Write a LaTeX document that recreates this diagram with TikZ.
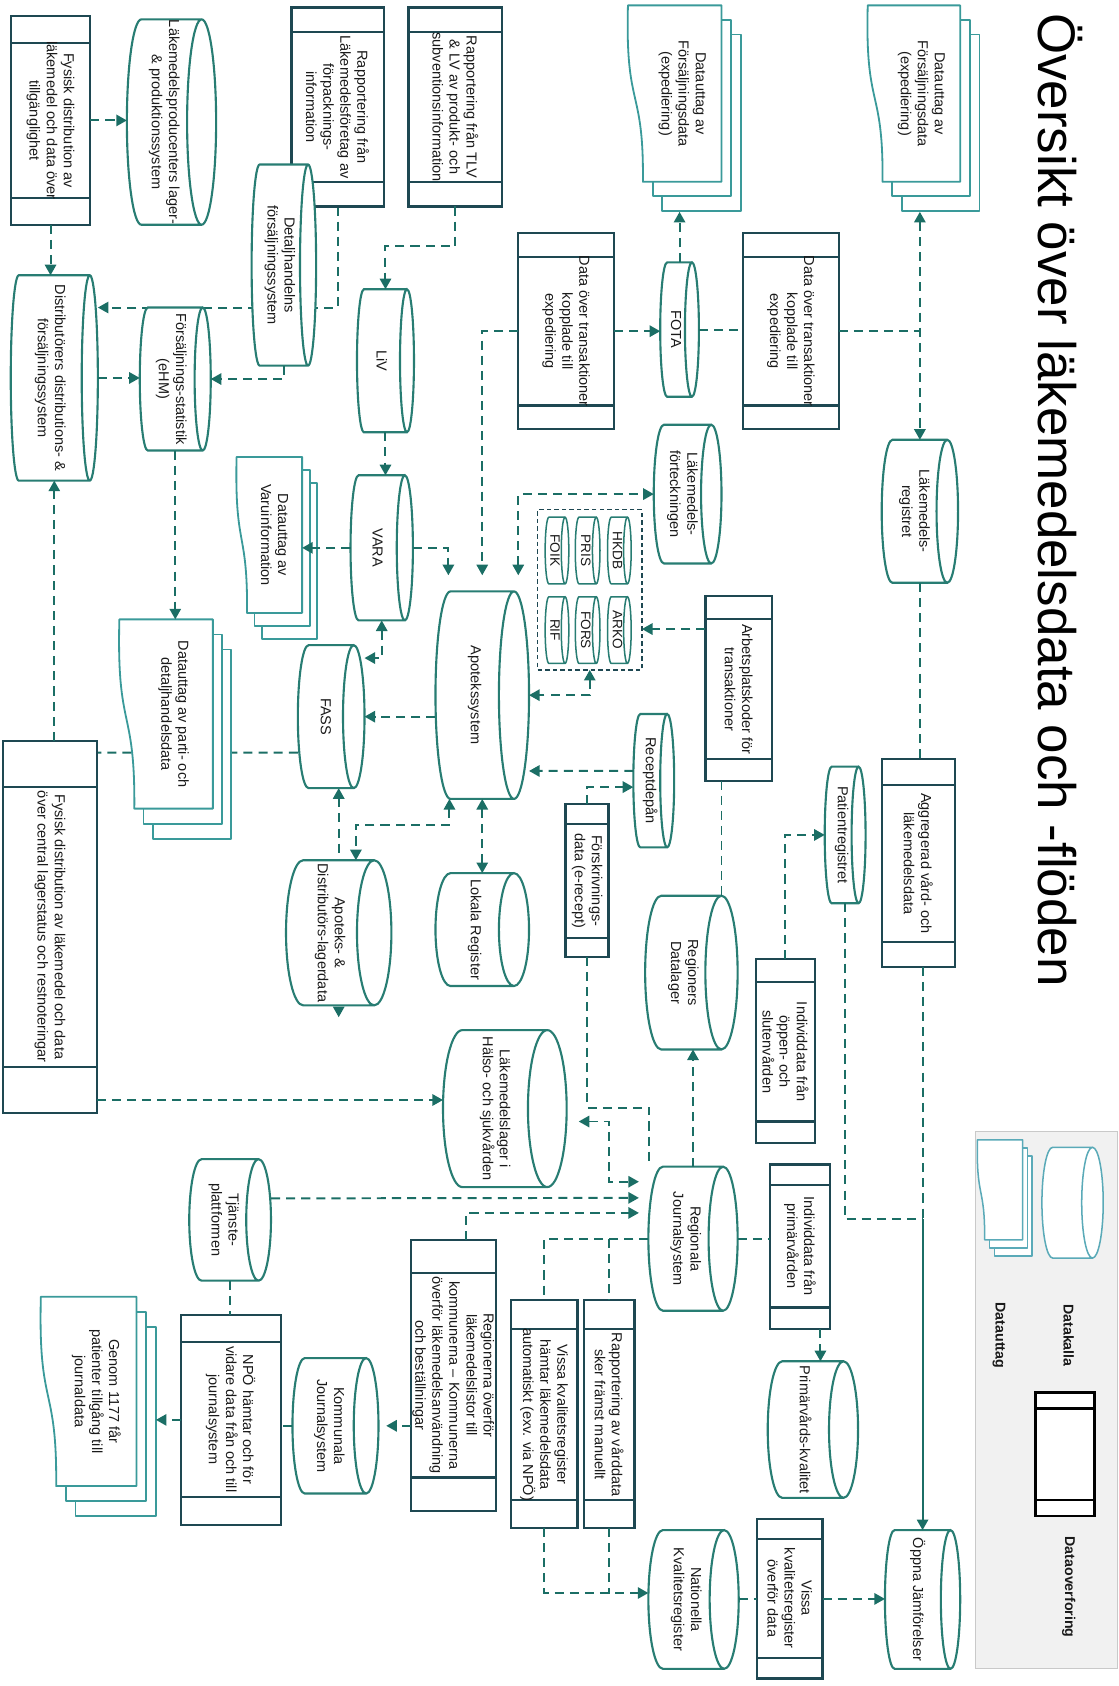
\documentclass[tikz,border=0pt]{standalone}
\usepackage{fontspec}
\setmainfont{Liberation Sans}
\usetikzlibrary{arrows.meta,calc}
\pgfdeclarelayer{bg}
\pgfsetlayers{bg,main}

\definecolor{cylc}{HTML}{287D73}
\definecolor{docc}{HTML}{3A9A9A}
\definecolor{recc}{HTML}{1E4852}
\definecolor{arrc}{HTML}{1B6E65}
\definecolor{txtc}{HTML}{1A1A1A}
\definecolor{legfill}{HTML}{F1F1F1}
\definecolor{legline}{HTML}{C9C9C9}
\definecolor{legc}{HTML}{5AAAB8}

\tikzset{
  shapebox/.style={rectangle, inner sep=0pt, outer sep=0pt},
  txt/.style={rotate=-90, align=center, inner sep=0pt, text=txtc, font=\fontsize{9.6}{11.3}\selectfont},
  cylsty/.style={draw=cylc, line width=1.4pt, fill=white},
  docsty/.style={draw=docc, line width=1.2pt, fill=white, line join=round},
  recsty/.style={draw=recc, line width=1.5pt, fill=white},
  flow/.style={draw=arrc, line width=1.3pt, dash pattern=on 6pt off 4pt},
  solidflow/.style={draw=arrc, line width=1.3pt},
  >={Triangle[length=7pt,width=7.5pt]},
}

% cylinder: [style]{name}{x1}{y1}{x2}{y2}{face width}{text}
\newcommand\cylnode[8][]{%
  \draw[cylsty,#1] ({#5-#7/2},#4) -- ({#3+#7/2},#4)
    arc[start angle=270,end angle=90,x radius={#7/2},y radius={(#6-#4)/2}]
    -- ({#5-#7/2},#6)
    arc[start angle=90,end angle=-90,x radius={#7/2},y radius={(#6-#4)/2}]
    arc[start angle=-90,end angle=-270,x radius={#7/2},y radius={(#6-#4)/2}];
  \node[shapebox,minimum width={(#5-#3)*0.025cm},minimum height={(#6-#4)*0.025cm}] (#2) at ({(#3+#5)/2},{(#4+#6)/2}) {};
  \node[txt] (#2-t) at ({(#3+#5-#7/2)/2},{(#4+#6)/2}) {#8};
}
% multi document: [style]{name}{x1}{y1}{x2}{y2}{dx}{dy}{text}
\newcommand\docnode[9][]{%
  \draw[docsty,#1] ({#3+0.16*(#5-#3)+2*#7},{#4+2*#8}) rectangle ({#5+2*#7},{#6+2*#8});
  \draw[docsty,#1] ({#3+0.16*(#5-#3)+#7},{#4+#8}) rectangle ({#5+#7},{#6+#8});
  \draw[docsty,#1] (#5,#4) -- (#3,#4)
    .. controls ({#3-0.03*(#5-#3)},{#4+0.6*(#6-#4)}) and ({#3+0.17*(#5-#3)},{#4+0.45*(#6-#4)}) ..
    ({#3+0.16*(#5-#3)},#6) -- (#5,#6) -- cycle;
  \node[shapebox,minimum width={(#5-#3)*0.025cm},minimum height={(#6-#4)*0.025cm}] (#2) at ({(#3+#5)/2},{(#4+#6)/2}) {};
  \node[txt] (#2-t) at ({#3+0.58*(#5-#3)},{(#4+#6)/2}) {#9};
}
% process box: [style]{name}{x1}{y1}{x2}{y2}{div1}{div2}{text}
\newcommand\recnode[9][]{%
  \node[shapebox,recsty,#1,minimum width={(#5-#3)*0.025cm},minimum height={(#6-#4)*0.025cm}] (#2) at ({(#3+#5)/2},{(#4+#6)/2}) {};
  \draw[recsty,fill=none,#1] (#3,#7) -- (#5,#7) (#3,#8) -- (#5,#8);
  \node[txt] (#2-t) at ({(#3+#5)/2},{(#7+#8)/2}) {#9};
}

\begin{document}
\begin{tikzpicture}[x=0.025cm,y=-0.025cm]
\useasboundingbox (0,0) rectangle (1040,1568);

% title
\node[rotate=-90, anchor=base west, inner sep=0pt, text=black, font=\fontsize{35}{40}\selectfont] (title) at (966,12) {Översikt över läkemedelsdata och -flöden};

% ---------- shapes ----------
\recnode{r1}{10}{15}{84}{209}{40}{184}{Fysisk distribution av\\läkemedel och data över\\tillgänglighet}
\cylnode{c2}{118}{18}{201}{209}{27}{Läkemedelsproducenters lager-\\\& produktionssystem}
\recnode{r3}{271}{7}{357}{192}{30}{169}{Rapportering från\\Läkemedelsföretag av\\förpacknings-\\information}
\recnode{r4}{380}{7}{467}{192}{30}{169}{Rapportering från TLV\\\& LV av produkt- och\\subventionsinformation}
\cylnode{c5}{234}{153}{294}{340}{15}{Detaljhandelns\\försäljningssystem}
\cylnode{c6}{10}{256}{91}{447}{15}{Distributörers distributions- \&\\försäljningssystem}
\cylnode{c7}{130}{286}{196}{419}{15}{Försäljnings-statistik\\(eHM)}
\cylnode{liv}{332}{269}{385}{402}{13}{LiV}
\cylnode{vara}{326}{442}{384}{577}{15}{VARA}
\docnode{d10}{220}{425}{281}{570}{7}{12}{Datauttag av\\Varuinformation}
\docnode{dexp1}{584}{5}{671}{169}{9}{13.5}{Datauttag av\\Försäljningsdata\\(expediering)}
\recnode{rdot1}{482}{217}{571}{399}{239}{377}{Data över transaktioner\\kopplade till\\expediering}
\cylnode{fota}{614}{244}{650}{369}{13}{FOTA}
\recnode{rdot2}{691}{217}{780}{399}{239}{377}{Data över transaktioner\\kopplade till\\expediering}
\docnode{dexp2}{807}{5}{893}{169}{9}{13.5}{Datauttag av\\Försäljningsdata\\(expediering)}
\cylnode{lreg}{820}{409}{891}{542}{20}{Läkemedels-\\registret}
\cylnode{lfort}{608}{395}{671}{524}{19}{Läkemedels-\\förteckningen}
\docnode{dparti}{111}{576}{198}{752}{8.5}{14}{Datauttag av parti- och\\detaljhandelsdata}
\cylnode{fass}{277}{600}{339}{733}{20}{FASS}
\cylnode{apo}{405}{550}{492}{743}{28}{Apotekssystem}
\cylnode{cad}{266}{800}{364}{935}{32}{Apoteks- \&\\Distributörs-lagerdata}
\cylnode{clr}{405}{812}{492}{917}{28}{Lokala Register}
\recnode{rbig}{3}{689}{90}{1035}{732}{992}{Fysisk distribution av läkemedel och data\\över central lagerstatus och restnoteringar}

\node[shapebox,draw=recc,line width=1pt,dash pattern=on 3pt off 2pt,minimum width={97*0.025cm},minimum height={149*0.025cm}] (grp) at (548.5,548.5) {};
\cylnode[line width=1pt]{hkdb}{565}{481}{587}{543}{7}{\fontsize{9}{10}\selectfont HKDB}
\cylnode[line width=1pt]{pris}{535}{481}{558}{543}{7}{\fontsize{9}{10}\selectfont PRIS}
\cylnode[line width=1pt]{foik}{507}{481}{529}{543}{7}{\fontsize{9}{10}\selectfont FOIK}
\cylnode[line width=1pt]{arko}{565}{555}{587}{617}{7}{\fontsize{9}{10}\selectfont ARKO}
\cylnode[line width=1pt]{fors}{535}{555}{558}{617}{7}{\fontsize{9}{10}\selectfont FORS}
\cylnode[line width=1pt]{rif}{507}{555}{529}{617}{7}{\fontsize{9}{10}\selectfont RIF}

\recnode{rarb}{656}{554}{718}{726}{576}{706}{Arbetsplatskoder för\\transaktioner}
\cylnode{crec}{589}{664}{627}{788}{13}{Receptdepån}
\recnode{rfor}{526}{748}{566}{890}{766}{872}{Förskrivnings-\\data (e-recept)}
\cylnode{creg}{600}{833}{686}{976}{30}{Regioners\\Datalager}
\cylnode{cpat}{767}{713}{805}{840}{13}{Patientregistret}
\recnode{ragg}{820}{706}{888}{899}{730}{876}{Aggregerad vård- och\\läkemedelsdata}
\recnode{rind1}{703}{892}{758}{1063}{913}{1043}{Individdata från\\öppen- och\\slutenvården}
\cylnode{chs}{412}{958}{527}{1104}{36}{Läkemedelslager i\\Hälso- och sjukvården}
\cylnode{cregj}{603}{1085}{686}{1219}{27}{Regionala\\Journalsystem}
\recnode{rind2}{716}{1083}{772}{1236}{1102}{1216}{Individdata från\\primärvården}
\cylnode{cprim}{714}{1266}{798}{1393}{27}{Primärvårds-kvalitet}
\recnode{rrap}{543}{1209}{590}{1421}{1236}{1395}{Rapportering av vårddata\\sker främst manuellt}
\recnode{rviss}{475}{1209}{537}{1421}{1236}{1395}{Vissa kvalitetsregister\\hämtar läkemedelsdata\\automatiskt (exv. via NPÖ)}
\recnode{rregn}{382}{1153}{461}{1405}{1184}{1374}{Regionerna överför\\läkemedelslistor till\\kommunerna – Kommunerna\\överför läkemedelsanvändning\\och beställningar}
\cylnode{ckom}{272}{1263}{352}{1389}{23}{Kommunala\\Journalsystem}
\recnode{rnpo}{168}{1223}{261}{1418}{1248}{1392}{NPÖ hämtar och för\\vidare data från och till\\journalsystem}
\docnode{d1177}{38}{1206}{127}{1382}{9}{14}{Genom 1177 får\\patienter tillgång till\\journaldata}
\cylnode{ctj}{176}{1078}{252}{1191}{23}{Tjänste-\\plattformen}
\cylnode{cnat}{603}{1423}{687}{1552}{27}{Nationella\\Kvalitetsregister}
\recnode{rvissov}{704}{1413}{765}{1561}{1431}{1542}{Vissa\\kvalitetsregister\\överför data}
\cylnode{coj}{823}{1423}{893}{1552}{18}{Öppna Jämförelser}

% legend
\node[shapebox,draw=legline,fill=legfill,line width=0.8pt,minimum width={132*0.025cm},minimum height={500*0.025cm}] (leg) at (973,1302) {};
\cylnode[draw=legc,line width=1pt]{legcyl}{969}{1067}{1026}{1170}{20}{}
\docnode[draw=legc,line width=1pt]{legdoc}{909}{1060}{951}{1153}{4.5}{7.5}{}
\recnode[draw=black,line width=1.5pt]{legrec}{963}{1295}{1018}{1410}{1310}{1395}{}
\node[txt,font=\bfseries\fontsize{9.4}{11}\selectfont] (legt1) at (994,1242) {Datakalla};
\node[txt,font=\bfseries\fontsize{9.4}{11}\selectfont] (legt2) at (929,1242) {Datauttag};
\node[txt,font=\bfseries\fontsize{9.4}{11}\selectfont] (legt3) at (994,1476) {Dataoverforing};

% ---------- connectors behind shapes ----------
\begin{pgfonlayer}{bg}
\draw[flow,->] (r3.south) |- (c6.east |- c7.north);
\draw[flow] ($(fass.south west)+(0,-33)$) -- ($(rbig.north east)+(0,11)$);
\draw[flow,<->] (fass.south -| cad.north) -- ($(cad.south)+(0,11)$);
\end{pgfonlayer}

% ---------- connectors ----------
\draw[flow,->] (r1.east) -- (r1.east -| c2.west);
\draw[flow,->] (r1.south) -- (r1.south |- c6.north);
\draw[flow,->] (c5.south) |- (c7.east);
\draw[flow,->] (c6.east) -- (c6.east -| c7.west);
\draw[flow,->] (r4.south) -- ++(0,37) -| (liv.north);
\draw[flow,->] (liv.south) -- (liv.south |- vara.north);
\draw[flow,->,shorten >=0.375cm] (vara.east) -| ($(apo.north west)+(12,0)$);
\draw[flow,->,shorten >=0.375cm] (rdot1.west) -| (apo.north);
\draw[flow,<->,shorten <=0.375cm] ($(apo.north east)+(-10,0)$) |- (lfort.west);
\draw[flow,->] ($(rarb.north west)+(0,31)$) -- ($(grp.north east)+(0,111)$);
\draw[flow,<->] (grp.south) |- (apo.east);
\draw[flow,->] ($(crec.west)+(0,-9)$) -- ($(apo.east)+(0,70.5)$);
\draw[flow,->] (rfor.north) |- ($(crec.west)+(0,6)$);
\draw[flow,->] (apo.west |- fass.east) -- (fass.east);
\draw[flow,<->] (vara.south) |- ($(fass.north east)+(0,12)$);
\draw[flow,<->] ($(apo.south west)+(13,0)$) -- ++(0,24) -| ($(cad.north)+(16,0)$);
\draw[flow,<->] (apo.south) -- (clr.north);
\coordinate (rbigout) at ($(rbig.south east)+(0,-12)$);
\draw[flow,->] (rbigout) -- (rbigout -| chs.west);
\draw[flow,->] (c6.south |- rbig.north) -- (c6.south);
\draw[flow,->] (c7.south) -- (c7.south |- dparti.north);
\draw[flow,->] (vara.west) -- (vara.west -| d10.east);
\draw[flow,->] (fota.north) -- ($(fota.north |- dexp1.south)+(0,28)$);
\draw[flow,->] (rdot1.east) -- (rdot1.east -| fota.west);
\draw[flow] (fota.east) -- (fota.east -| rdot2.west);
\draw[flow] (rdot2.east) -- (rdot2.east -| lreg.north);
\draw[flow,<->] ($(lreg.north |- dexp2.south)+(0,28)$) -- (lreg.north);
\draw[flow] (lreg.south) -- (lreg.south |- ragg.north);
\coordinate (jn) at ($(coj.north |- cpat.south)+(0,294)$);
\draw[flow] (coj.north |- ragg.south) -- (jn);
\draw[solidflow,->] (jn) -- (coj.north);
\draw[flow] (cpat.south) |- (jn);
\draw[flow,->] (rind1.north) |- (cpat.west);
\draw[flow] ($(rarb.south west)+(15,0)$) -- ($(creg.north west)+(71,0)$);
\draw[flow,->] (cregj.north) -- (cregj.north |- creg.south);
\draw[flow] (rfor.south) |- ($(cregj.north west)+(1,-55)$) -- ($(cregj.north west)+(1,0)$);
\draw[flow,<->,shorten <=0.28cm,shorten >=0.22cm] ($(chs.east)+(0,12)$) -| ($(cregj.west)+(-37,-53)$) -- ($(cregj.west)+(0,-53)$);
\draw[flow,->,shorten >=0.22cm] ($(ctj.east)+(0,-20)$) -- ($(cregj.west)+(0,-38)$);
\draw[flow,->,shorten >=0.22cm] ($(rregn.north)+(12,0)$) |- ($(cregj.west)+(0,-24)$);
\draw[flow] (cregj.west) -| (rviss.north);
\draw[flow] (cregj.west -| rrap.north) -- (rrap.north);
\draw[flow] (cregj.east) -- (cregj.east -| rind2.west);
\coordinate (rind2out) at ($(rind2.south east)+(-9,0)$);
\draw[flow,->] (rind2out) -- (rind2out |- cprim.north);
\draw[flow,->] (rviss.south) |- ($(cnat.west)+(0,-6)$);
\draw[flow] (rrap.south) -- ($(rrap.south)+(0,61)$);
\draw[flow] (cnat.east) -- (cnat.east -| rvissov.west);
\draw[flow,->] (rvissov.east) -- (rvissov.east -| coj.west);
\draw[flow,->,shorten >=0.18cm] (rregn.west |- ckom.east) -- (ckom.east);
\draw[flow] (ckom.west) -- (ckom.west -| rnpo.east);
\draw[flow,->] (rnpo.west) -- ($(rnpo.west -| d1177.east)+(18,0)$);
\draw[flow] (ctj.south) -- (ctj.south |- rnpo.north);
\end{tikzpicture}
\end{document}
